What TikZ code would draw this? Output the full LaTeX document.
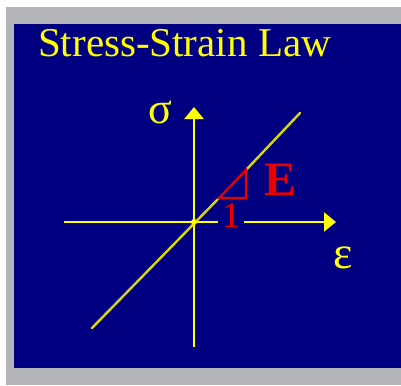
\documentclass[tikz,border=0pt]{standalone}
\usepackage{fontspec}
\setmainfont{Liberation Serif}
\usetikzlibrary{arrows.meta}
\definecolor{navyblue}{RGB}{0,0,128}
\definecolor{framegray}{RGB}{179,181,184}
\definecolor{lawyellow}{RGB}{255,255,0}
\definecolor{lawred}{RGB}{235,0,0}
\tikzset{
  axis/.style={draw=lawyellow, line width=2.4pt, -{Triangle[length=12pt,width=19pt]}},
  curve/.style={draw=lawyellow!85!black, line width=2.4pt, line cap=round},
  slope/.style={draw=lawred, line width=2.2pt, line join=miter},
  label/.style={text=lawyellow, inner sep=0pt}
}
\begin{document}
\begin{tikzpicture}[x=1pt, y=-1pt]
\useasboundingbox (0,0) rectangle (401,385);
\fill[framegray] (6,7) rectangle (401,385);
\fill[navyblue] (14,24) rectangle (401,368);
\node[label, anchor=base west, font=\fontsize{41}{45}\selectfont] (title) at (38,57) {Stress-Strain Law};
\coordinate (O) at (194,222);
\coordinate (xs) at (64,222);
\coordinate (xe) at (336,222);
\coordinate (ys) at (194,347);
\coordinate (ye) at (194,107);
\coordinate (ls) at (92,328);
\coordinate (le) at (300,113);
\coordinate (A) at (219,198);
\coordinate (B) at (246,198);
\coordinate (C) at (246,170);
\draw[axis] (xs) -- (xe);
\draw[axis] (ys) -- (ye);
\draw[curve] (ls) -- (A);
\draw[curve] (C) -- (le);
\fill[lawyellow] (O) circle (3pt);
\node[fill=navyblue, text=lawred, minimum width=26pt, minimum height=27pt, inner sep=0pt, font=\fontsize{36}{38}\selectfont] (one) at (231,216) {1};
\draw[slope] (A) -- (B) -- (C) -- cycle;
\node[text=lawred, inner sep=0pt, font=\fontsize{48}{50}\selectfont\bfseries] (E) at (281,180) {E};
\node[label, font=\fontsize{44}{46}\selectfont] (sigma) at (160,112) {σ};
\node[label, font=\fontsize{46}{48}\selectfont] (eps) at (343,258) {ε};
\end{tikzpicture}
\end{document}
